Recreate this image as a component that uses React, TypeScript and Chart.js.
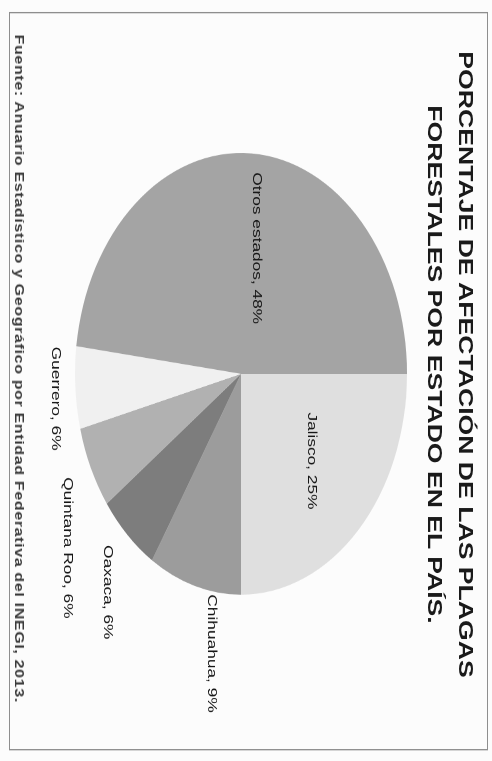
import React, { useEffect, useRef } from "react";
import { Chart, registerables } from "chart.js";

Chart.register(...registerables);

const titleLines = ["PORCENTAJE DE AFECTACIÓN DE LAS PLAGAS", "FORESTALES POR ESTADO EN EL PAÍS."];
const sourceNote = "Fuente: Anuario Estadístico y Geográfico por Entidad Federativa del INEGI, 2013.";
const categories = ["Jalisco", "Chihuahua", "Oaxaca", "Quintana Roo", "Guerrero", "Otros estados"];
const percentages = [25, 9, 6, 6, 6, 48];

const sliceColors = ["#dfdfdf", "#9c9c9c", "#7d7d7d", "#b1b1b1", "#f0f0f0", "#a4a4a4"];
// label placement: radial factor of radius + small nudges
const labelPlacement = [
  { f: 0.6, dx: -5, dy: 0 },
  { f: 1.3, dx: 3, dy: -31 },
  { f: 1.2, dx: 19, dy: -3 },
  { f: 1.2, dx: 46, dy: -7 },
  { f: 1.12, dx: 7, dy: 0 },
  { f: 0.54, dx: -5, dy: -10 },
];

const W = 572;
const H = 492;
const STRETCH = 761 / W;

const labelPlugin = {
  id: "sliceLabels",
  afterDatasetsDraw(chart: any) {
    const ctx = chart.ctx;
    const meta = chart.getDatasetMeta(0);
    ctx.save();
    ctx.font = "13px 'Liberation Sans', Arial, sans-serif";
    ctx.textAlign = "center";
    ctx.textBaseline = "middle";
    meta.data.forEach((arc: any, i: number) => {
      const p = arc.getProps(["x", "y", "startAngle", "endAngle", "outerRadius"], true);
      const mid = (p.startAngle + p.endAngle) / 2;
      const pl = labelPlacement[i];
      const x = p.x + Math.cos(mid) * p.outerRadius * pl.f + pl.dx;
      const y = p.y + Math.sin(mid) * p.outerRadius * pl.f + pl.dy;
      ctx.fillStyle = "#161616";
      ctx.fillText(`${categories[i]}, ${percentages[i]}%`, x, y);
    });
    ctx.restore();
  },
};

export default function App() {
  const canvasRef = useRef<HTMLCanvasElement | null>(null);

  useEffect(() => {
    if (!canvasRef.current) return;
    const chart = new Chart(canvasRef.current, {
      type: "pie",
      data: {
        labels: categories,
        datasets: [
          {
            data: percentages,
            backgroundColor: sliceColors,
            borderWidth: 0,
          },
        ],
      },
      options: {
        animation: false,
        responsive: false,
        devicePixelRatio: 2,
        layout: { padding: { left: 115, right: 125, top: 85, bottom: 75 } },
        plugins: {
          legend: { display: false },
          tooltip: { enabled: false },
          title: { display: false },
        },
      },
      plugins: [labelPlugin],
    });
    return () => chart.destroy();
  }, []);

  return (
    <div
      style={{
        position: "fixed",
        left: 0,
        top: 0,
        width: W,
        height: H,
        background: "#fcfcfc",
        transformOrigin: "0 0",
        transform: `translate(492px, 0) rotate(90deg) scale(${STRETCH}, 1)`,
        fontFamily: "'Liberation Sans', Arial, sans-serif",
      }}
    >
      <div
        style={{
          position: "absolute",
          left: 9,
          top: 4,
          width: 555,
          height: 479,
          border: "1.5px solid #8e8e8e",
          boxSizing: "border-box",
        }}
      />
      <canvas ref={canvasRef} width={W} height={H} style={{ position: "absolute", left: 0, top: 0, width: W, height: H }} />
      <div
        style={{
          position: "absolute",
          left: 0,
          top: 11,
          width: 548,
          textAlign: "center",
          fontWeight: "bold",
          fontSize: 20,
          lineHeight: "31px",
          color: "#1a1a1a",
          whiteSpace: "nowrap",
        }}
      >
        {titleLines.map((t) => (
          <div key={t}>{t}</div>
        ))}
      </div>
      <div
        style={{
          position: "absolute",
          left: 26,
          top: 466,
          fontWeight: "bold",
          fontSize: 12,
          letterSpacing: "0.5px",
          lineHeight: "14px",
          color: "#3a3a3a",
          whiteSpace: "nowrap",
        }}
      >
        {sourceNote}
      </div>
    </div>
  );
}
